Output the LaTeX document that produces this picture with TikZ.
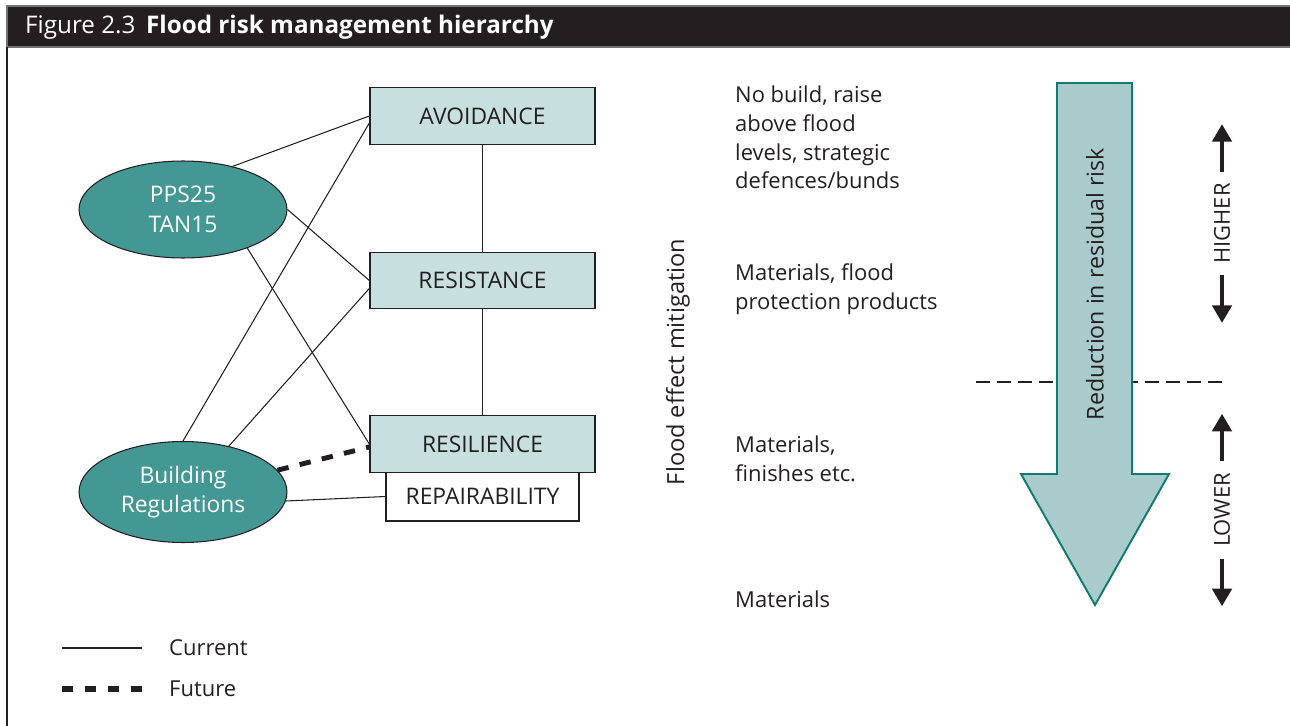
\documentclass[tikz,border=0pt]{standalone}
\usepackage{fontspec}
\setmainfont{Open Sans}
\usetikzlibrary{shapes.geometric,arrows.meta,calc}

\definecolor{bardark}{RGB}{35,31,32}
\definecolor{tealfill}{RGB}{67,152,148}
\definecolor{boxfill}{RGB}{200,223,224}
\definecolor{arrowfill}{RGB}{170,203,203}
\definecolor{arrowedge}{RGB}{18,122,112}

\begin{document}
\begin{tikzpicture}[x=0.02cm, y=-0.02cm,
    every node/.style={text=bardark, font=\fontsize{12.5}{16.4}\selectfont},
    ellnode/.style={ellipse, draw=bardark, fill=tealfill, text=white, line width=0.6pt,
        minimum width=4.16cm, minimum height=1.94cm, inner sep=0pt, align=center,
        font=\fontsize{13}{16.8}\selectfont},
    boxnode/.style={rectangle, draw=bardark, fill=boxfill, line width=0.8pt,
        minimum width=4.5cm, minimum height=1.13cm, inner sep=0pt,
        font=\fontsize{13}{16}\selectfont},
    current/.style={line width=0.6pt, draw=bardark},
    future/.style={line width=2.8pt, draw=bardark, dash pattern=on 6.5pt off 6.5pt},
    sidearrow/.style={line width=2.2pt, draw=bardark,
        -{Triangle[width=11pt,length=10pt]}},
    sidelabel/.style={rotate=90, inner sep=0pt}]

    \useasboundingbox (0,0) rectangle (1290,726);

    % frame and title
    \filldraw[fill=bardark, draw=black!55, line width=0.8pt] (7,6) rectangle (1292,47);
    \draw[bardark, line width=0.9pt] (7,47) -- (7,728);
    \node[anchor=base west, text=white, font=\fontsize{13.8}{15}\selectfont]
        (title) at (19,34) {Figure 2.3\hspace{6pt}\textbf{Flood risk management hierarchy}};

    % hierarchy boxes
    \node[boxnode] (avoid)  at (482.5,116) {AVOIDANCE};
    \node[boxnode] (resist) at (482.5,280.5) {RESISTANCE};
    \node[boxnode, minimum width=3.86cm, minimum height=0.98cm, fill=white]
        (repair) at (482.5,496.5) {REPAIRABILITY};
    \node[boxnode] (resil)  at (482.5,444) {RESILIENCE};

    \draw[current] (avoid) -- (resist);
    \draw[current] (resist) -- (resil);

    % policy ellipses
    \node[ellnode] (pps)   at (183,209.5) {PPS25\\TAN15};
    \node[ellnode, minimum height=2.02cm] (bregs) at (183,492) {Building\\Regulations};

    \draw[current] (pps.41) -- (avoid.west);
    \draw[current] (pps.0) -- (resist.west);
    \draw[current] (pps.-31) -- (resil.west);
    \draw[current] (bregs.north) -- ([yshift=-4pt]avoid.west);
    \draw[current] (bregs.45) -- ([yshift=-4.5pt]resist.west);
    \draw[future] (bregs.13) -- ([yshift=-1.7pt]resil.west);
    \draw[current] (bregs.-5) -- (repair.west);

    % legend
    \coordinate (curA) at (62,648);
    \coordinate (curB) at (142,648);
    \coordinate (futA) at (62,689);
    \coordinate (futB) at (142,689);
    \draw[current] (curA) -- (curB);
    \draw[future, line width=2.9pt, dash pattern=on 6.5pt off 6.5pt] (futA) -- (futB);
    \node[anchor=west] (curtext) at (163,648) {Current};
    \node[anchor=west] (futtext) at (163,689) {Future};

    % mitigation notes
    \node[rotate=90, font=\fontsize{13.4}{16}\selectfont] (mitig) at (678,362)
        {Flood effect mitigation};
    \node[anchor=west, align=left] (noteA) at (729,137.5)
        {No build, raise\\above flood\\levels, strategic\\defences/bunds};
    \node[anchor=west, align=left] (noteB) at (729,289.5)
        {Materials, flood\\protection products};
    \node[anchor=west, align=left] (noteC) at (729,458.5)
        {Materials,\\finishes etc.};
    \node[anchor=west, align=left] (noteD) at (729,599) {Materials};

    % residual risk arrow
    \draw[bardark, line width=1.1pt, dash pattern=on 8pt off 4pt] (976,382) -- (1222,382);
    \draw[draw=arrowedge, fill=arrowfill, line width=1.1pt, line join=miter]
        (1057,83) -- (1132,83) -- (1132,474) -- (1169,474) -- (1095,605)
        -- (1021,474) -- (1057,474) -- cycle;
    \node[rotate=90, font=\fontsize{13.2}{15}\selectfont] (reduce) at (1095,284)
        {Reduction in residual risk};

    % higher / lower
    \node[sidelabel] (higher) at (1222,223.5) {HIGHER};
    \node[sidelabel] (lower)  at (1222,510) {LOWER};
    \foreach \lbl in {higher,lower}
    {
        \draw[sidearrow] ([yshift=6.5pt]\lbl.east) -- ++(0pt,27pt);
        \draw[sidearrow] ([yshift=-6.5pt]\lbl.west) -- ++(0pt,-27pt);
    }

\end{tikzpicture}
\end{document}
